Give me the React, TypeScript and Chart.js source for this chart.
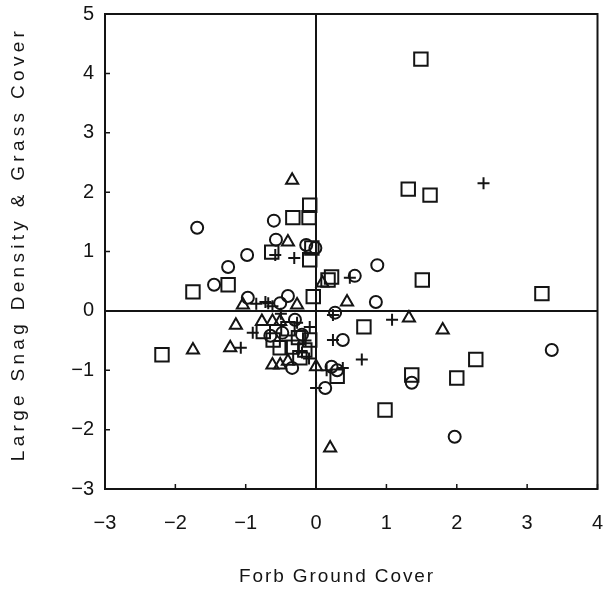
import React, { useEffect, useRef } from "react";
import { Chart, registerables } from "chart.js";

Chart.register(...registerables);

const xTicks = [-3, -2, -1, 0, 1, 2, 3, 4];
const yTicks = [-3, -2, -1, 0, 1, 2, 3, 4, 5];
const xTitle = "Forb Ground Cover";
const yTitle = "Large Snag Density & Grass Cover";

const squares: number[][] = [
  [1.49, 4.24], [1.31, 2.05], [1.62, 1.95], [1.51, 0.52], [3.21, 0.29],
  [-1.75, 0.32], [-1.25, 0.44], [-2.19, -0.74], [0.68, -0.27], [1.36, -1.08],
  [2.0, -1.13], [2.27, -0.82], [0.98, -1.67], [-0.09, 1.78], [-0.1, 1.57],
  [-0.33, 1.57], [-0.06, 1.06], [-0.09, 0.86], [0.17, 0.52], [0.22, 0.57],
  [-0.04, 0.24], [-0.63, 0.99], [-0.75, -0.35], [-0.61, -0.49], [-0.34, -0.61],
  [-0.51, -0.62], [-0.23, -0.79], [-0.09, -0.49], [-0.16, -0.66], [0.3, -1.1],
  [-0.4, -0.3], [-0.25, -0.45],
];

const circles: number[][] = [
  [-1.69, 1.4], [-0.6, 1.52], [-0.57, 1.2], [-0.98, 0.94], [-1.25, 0.74],
  [-1.45, 0.44], [-0.14, 1.11], [-0.01, 1.06], [0.87, 0.77], [0.55, 0.59],
  [0.85, 0.15], [-0.97, 0.22], [-0.4, 0.25], [0.38, -0.49], [0.22, -0.94],
  [0.13, -1.3], [1.36, -1.21], [3.35, -0.66], [1.97, -2.12], [0.27, -0.03],
  [-0.34, -0.96], [-0.48, -0.37], [-0.51, 0.13], [0.3, -1.0], [-0.2, -0.4],
  [-0.65, -0.42], [-0.3, -0.15],
];

const triangles: number[][] = [
  [-0.34, 2.2], [-0.4, 1.16], [-1.14, -0.24], [-1.75, -0.66], [-1.22, -0.62],
  [0.44, 0.15], [1.32, -0.12], [1.8, -0.32], [0.2, -2.31], [0.0, -0.94],
  [-1.04, 0.1], [-0.27, 0.1], [-0.77, -0.18], [-0.62, -0.18], [-0.51, -0.18],
  [-0.62, -0.91], [-0.51, -0.91], [0.09, 0.47], [-0.4, -0.85],
];

const crosses: number[][] = [
  [2.38, 2.15], [-0.58, 0.94], [-0.31, 0.89], [0.48, 0.56], [0.24, -0.07],
  [1.08, -0.15], [0.65, -0.82], [0.24, -0.49], [0.0, -1.3], [-1.07, -0.62],
  [0.38, -0.96], [-0.68, 0.13], [-0.72, 0.15], [-0.62, 0.08], [-0.9, -0.37],
  [-0.27, -0.2], [-0.09, -0.27], [-0.15, -0.5], [0.15, -1.0], [-0.85, 0.12],
  [-0.5, -0.05], [-0.2, -0.7], [-0.1, -0.8],
];

const INK = "#141414";
const FONT = "'Liberation Sans', Arial, sans-serif";

const fmt = (v: number) => (v < 0 ? "\u2212" + Math.abs(v) : String(v));

const framePlugin = {
  id: "frame",
  afterDraw(chart: any) {
    const { ctx, chartArea: a, scales } = chart;
    ctx.save();
    ctx.strokeStyle = INK;
    ctx.lineWidth = 2;
    ctx.strokeRect(a.left, a.top, a.right - a.left, a.bottom - a.top);
    ctx.lineWidth = 1.5;
    ctx.beginPath();
    for (const v of xTicks) {
      const px = scales.x.getPixelForValue(v);
      ctx.moveTo(px, a.bottom);
      ctx.lineTo(px, a.bottom - 5);
    }
    for (const v of yTicks) {
      const py = scales.y.getPixelForValue(v);
      ctx.moveTo(a.left, py);
      ctx.lineTo(a.left + 5, py);
    }
    ctx.stroke();

    // axis titles
    ctx.fillStyle = INK;
    ctx.font = `19px ${FONT}`;
    (ctx as any).letterSpacing = "1.9px";
    ctx.textAlign = "center";
    ctx.textBaseline = "middle";
    ctx.fillText(xTitle, 337, 577);
    ctx.translate(19, 244);
    ctx.rotate(-Math.PI / 2);
    (ctx as any).letterSpacing = "4.3px";
    ctx.fillText(yTitle, 0, 0);
    ctx.restore();
  },
};

export default function App() {
  const ref = useRef<HTMLCanvasElement>(null);
  useEffect(() => {
    if (!ref.current) return;
    const mk = (d: number[][], style: string, r: number) => ({
      data: d.map(([x, y]) => ({ x, y })),
      pointStyle: style,
      pointRadius: r,
      pointBorderColor: INK,
      pointBackgroundColor: "rgba(0,0,0,0)",
      pointBorderWidth: 2,
      showLine: false,
    });
    const chart = new Chart(ref.current, {
      type: "scatter",
      data: {
        datasets: [
          mk(squares, "rect", 9.5),
          mk(circles, "circle", 6),
          mk(triangles, "triangle", 7),
          mk(crosses, "cross", 6),
        ] as any,
      },
      options: {
        animation: false,
        responsive: false,
        layout: { padding: { top: 14, right: 11, left: 0, bottom: 0 } },
        plugins: { legend: { display: false }, tooltip: { enabled: false } },
        scales: {
          x: {
            type: "linear",
            min: -3,
            max: 4,
            afterBuildTicks: (s: any) => {
              s.ticks = xTicks.map((v) => ({ value: v }));
            },
            afterFit: (s: any) => {
              s.height = 105;
              s.paddingLeft = 0;
              s.paddingRight = 0;
            },
            border: { display: false },
            grid: {
              drawTicks: false,
              color: (c: any) => (c.tick && c.tick.value === 0 ? INK : "rgba(0,0,0,0)"),
              lineWidth: 2,
            },
            ticks: {
              color: INK,
              font: { family: FONT, size: 20 },
              padding: 22,
              maxRotation: 0,
              callback: (v: any) => fmt(Number(v)),
            },
          },
          y: {
            type: "linear",
            min: -3,
            max: 5,
            afterBuildTicks: (s: any) => {
              s.ticks = yTicks.map((v) => ({ value: v }));
            },
            afterFit: (s: any) => {
              s.width = 105;
              s.paddingTop = 0;
              s.paddingBottom = 0;
            },
            border: { display: false },
            grid: {
              drawTicks: false,
              color: (c: any) => (c.tick && c.tick.value === 0 ? INK : "rgba(0,0,0,0)"),
              lineWidth: 2,
            },
            ticks: {
              color: INK,
              font: { family: FONT, size: 20 },
              padding: 11,
              callback: (v: any) => fmt(Number(v)),
            },
          },
        },
      },
      plugins: [framePlugin],
    });
    return () => chart.destroy();
  }, []);
  return (
    <div style={{ position: "absolute", left: 0, top: 0, width: 609, height: 594, background: "#fff" }}>
      <canvas ref={ref} width={609} height={594} />
    </div>
  );
}
